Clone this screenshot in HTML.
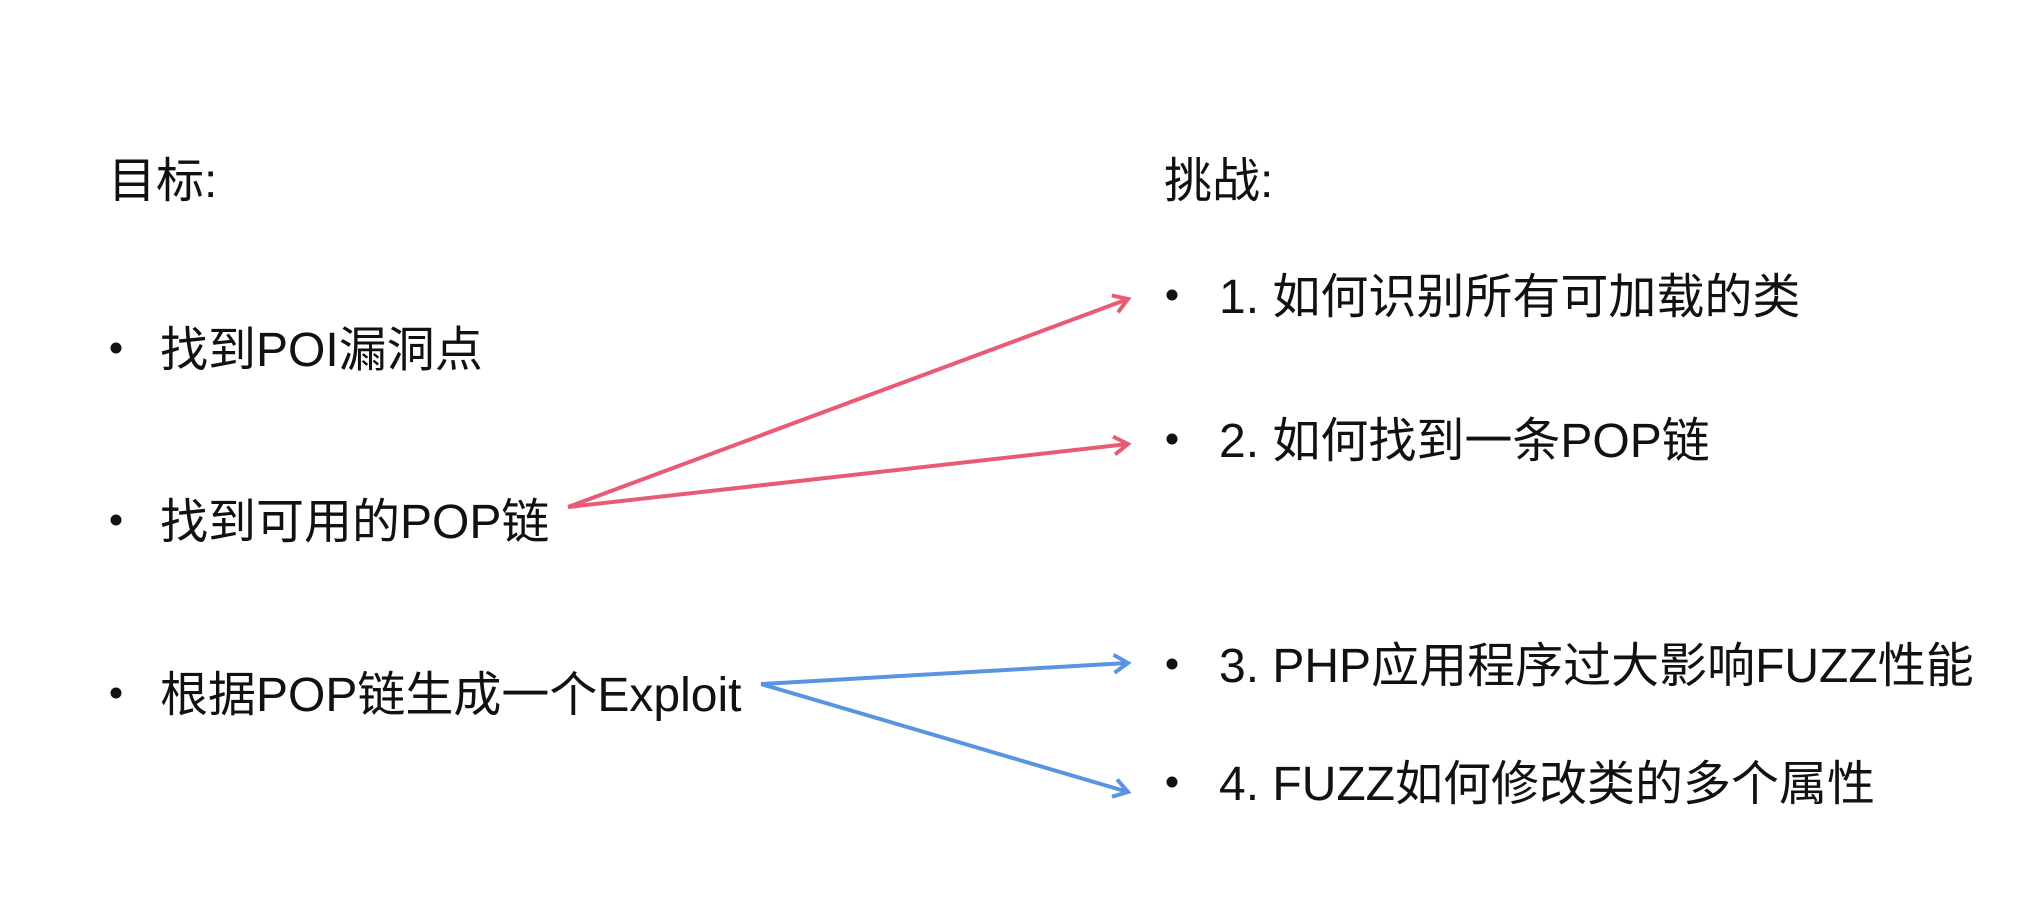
<!DOCTYPE html>
<html><head><meta charset="utf-8"><style>
html,body{margin:0;padding:0;background:#fff;}
body{width:2023px;height:906px;position:relative;overflow:hidden;font-family:"Liberation Sans","Noto Sans CJK SC",sans-serif;color:#111;}
.t{position:absolute;font-size:48px;line-height:1;white-space:nowrap;transform:translateY(-50%);}
.b{position:absolute;width:11px;height:11px;border-radius:50%;background:#111;transform:translate(-50%,-50%);}
svg{position:absolute;left:0;top:0;}
</style></head><body>
<div class="t" style="left:108px;top:182px">目标:</div>
<div class="t" style="left:1164px;top:182px">挑战:</div>

<div class="b" style="left:116px;top:348px"></div><div class="t" style="left:160px;top:351px">找到POI漏洞点</div>
<div class="b" style="left:116px;top:520px"></div><div class="t" style="left:160px;top:523px">找到可用的POP链</div>
<div class="b" style="left:116px;top:693px"></div><div class="t" style="left:160px;top:696px">根据POP链生成一个Exploit</div>

<div class="b" style="left:1172px;top:295px"></div><div class="t" style="left:1219px;top:298px">1. 如何识别所有可加载的类</div>
<div class="b" style="left:1172px;top:439px"></div><div class="t" style="left:1219px;top:442px">2. 如何找到一条POP链</div>
<div class="b" style="left:1172px;top:664px"></div><div class="t" style="left:1219px;top:667px">3. PHP应用程序过大影响FUZZ性能</div>
<div class="b" style="left:1172px;top:782px"></div><div class="t" style="left:1219px;top:785px">4. FUZZ如何修改类的多个属性</div>

<svg width="2023" height="906" viewBox="0 0 2023 906">
<defs>
<marker id="mr" markerWidth="20" markerHeight="22" refX="16" refY="11" orient="auto" markerUnits="userSpaceOnUse"><path d="M2,2 L16,11 L2,20" fill="none" stroke="#e95b73" stroke-width="4"/></marker>
<marker id="mb" markerWidth="20" markerHeight="22" refX="16" refY="11" orient="auto" markerUnits="userSpaceOnUse"><path d="M2,2 L16,11 L2,20" fill="none" stroke="#5b93e3" stroke-width="4"/></marker>
</defs>
<g stroke-width="4" fill="none">
<path d="M568,507 L1128,299" stroke="#e95b73" marker-end="url(#mr)"/>
<path d="M568,507 L1128,444" stroke="#e95b73" marker-end="url(#mr)"/>
<path d="M761,684 L1128,663" stroke="#5b93e3" marker-end="url(#mb)"/>
<path d="M761,684 L1128,792" stroke="#5b93e3" marker-end="url(#mb)"/>
</g>
</svg>
</body></html>
